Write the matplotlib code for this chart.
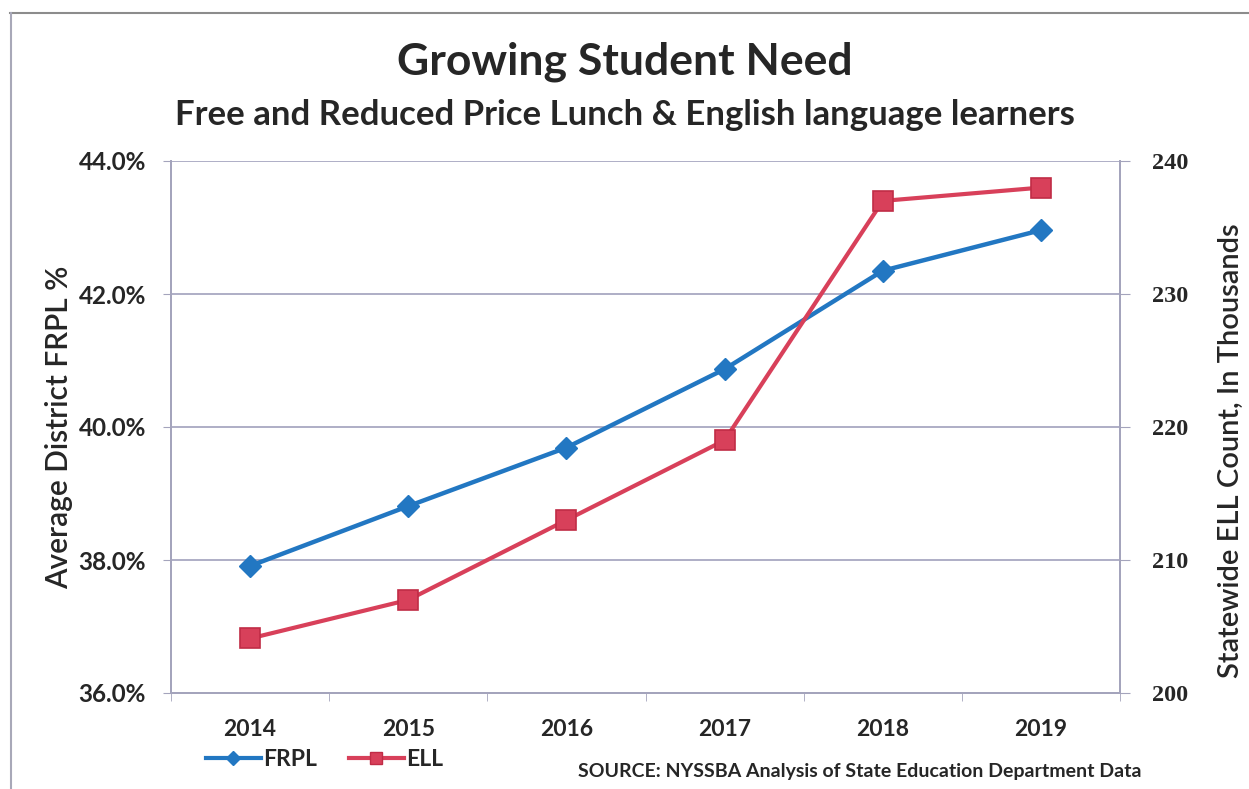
import matplotlib
matplotlib.use("Agg")
import matplotlib.pyplot as plt
from matplotlib.lines import Line2D
from matplotlib.ticker import FuncFormatter, FixedLocator

years = ["2014", "2015", "2016", "2017", "2018", "2019"]
frpl_pct = [37.91, 38.81, 39.69, 40.87, 42.35, 42.96]
ell_thousands = [204.1, 207.0, 213.0, 219.0, 237.0, 238.0]
left_ticks = [36.0, 38.0, 40.0, 42.0, 44.0]
right_ticks = [200, 210, 220, 230, 240]

blue = "#2277C2"
red = "#D8405A"
red_edge = "#C02C46"
spine_col = "#A4A4BC"
grid_col = "#A8A8C2"
text_col = "#262626"
sans = "Lato"

W, H = 1249, 789
fig = plt.figure(figsize=(W / 100, H / 100), dpi=100)
fig.patch.set_facecolor("white")

L, R, T, B = 171, 1120, 161, 693
ax = fig.add_axes([L / W, 1 - B / H, (R - L) / W, (B - T) / H])
ax2 = ax.twinx()

x = list(range(len(years)))
ax.plot(x, frpl_pct, color=blue, lw=3.2, marker="D", markersize=11,
        markerfacecolor=blue, markeredgecolor=blue, zorder=3)
ax2.plot(x, ell_thousands, color=red, lw=3.0, marker="s", markersize=14,
         markerfacecolor=red, markeredgecolor=red_edge, markeredgewidth=1.2, zorder=3)

ax.set_xlim(-0.5, len(years) - 0.5)
ax.set_ylim(36, 44)
ax2.set_ylim(200, 240)

ax.yaxis.set_major_locator(FixedLocator(left_ticks))
ax.yaxis.set_major_formatter(FuncFormatter(lambda v, p: f"{v:.1f}%"))
ax2.yaxis.set_major_locator(FixedLocator(right_ticks))

ax.set_xticks(x)
ax.set_xticklabels(years)
ax.set_xticks([i - 0.5 for i in range(len(years) + 1)], minor=True)
ax.tick_params(axis="x", which="major", length=0, pad=19)
ax.tick_params(axis="x", which="minor", length=6, color=spine_col, direction="out")
ax.tick_params(axis="y", length=6, color=spine_col, pad=12)
ax2.tick_params(axis="y", length=7, color=spine_col, pad=16)

for lab in ax.get_xticklabels():
    lab.set_fontfamily(sans); lab.set_fontweight("bold"); lab.set_fontsize(16.5); lab.set_color(text_col)
for lab in ax.get_yticklabels():
    lab.set_fontfamily(sans); lab.set_fontweight("bold"); lab.set_fontsize(17.5); lab.set_color(text_col)
for lab in ax2.get_yticklabels():
    lab.set_fontfamily("Liberation Serif"); lab.set_fontweight("bold"); lab.set_fontsize(17.5); lab.set_color(text_col)

ax.grid(axis="y", color=grid_col, lw=1.3)
ax.set_axisbelow(True)
for a in (ax, ax2):
    for s in a.spines.values():
        s.set_color(spine_col)
        s.set_linewidth(1.3)
    a.spines["top"].set_visible(False)

ax.set_ylabel("Average District FRPL %", fontfamily=sans, fontsize=21.5,
              fontweight="semibold", color=text_col, labelpad=4)
ax2.set_ylabel("Statewide ELL Count, In Thousands", fontfamily=sans, fontsize=21,
               fontweight="semibold", color=text_col, rotation=90)
ax2.yaxis.set_label_coords((1218 - L) / (R - L), (B - 451) / (B - T))

fig.text(0.5, 1 - 62 / H, "Growing Student Need", ha="center", va="center",
         fontfamily=sans, fontweight="bold", fontsize=32, color=text_col)
fig.text(0.5, 1 - 115 / H, "Free and Reduced Price Lunch & English language learners",
         ha="center", va="center", fontfamily=sans, fontweight="bold", fontsize=25,
         color=text_col)

handles = [
    Line2D([], [], color=blue, lw=3, marker="D", markersize=7),
    Line2D([], [], color=red, lw=3, marker="s", markersize=9,
           markeredgecolor=red_edge),
]
fig.legend(handles, ["FRPL", "ELL"], loc="center left",
           bbox_to_anchor=(185 / W, 1 - 760 / H), ncol=2, frameon=False,
           handlelength=2.4, handletextpad=0.1, columnspacing=1.4,
           prop={"family": sans, "weight": "bold", "size": 16.5})
for t in fig.legends[0].get_texts():
    t.set_color(text_col)

fig.text(1142 / W, 1 - 771 / H, "SOURCE: NYSSBA Analysis of State Education Department Data",
         ha="right", va="center", fontfamily=sans, fontweight="bold", fontsize=14,
         color=text_col)

# outer frame lines (top and left)
fig.add_artist(Line2D([10 / W, 1.0], [1 - 13 / H, 1 - 13 / H], color="#8C8C8C", lw=1.5))
fig.add_artist(Line2D([11 / W, 11 / W], [0.0, 1 - 13 / H], color="#A8A8B8", lw=1.5))

fig.savefig("out.png", dpi=100, facecolor="white")
